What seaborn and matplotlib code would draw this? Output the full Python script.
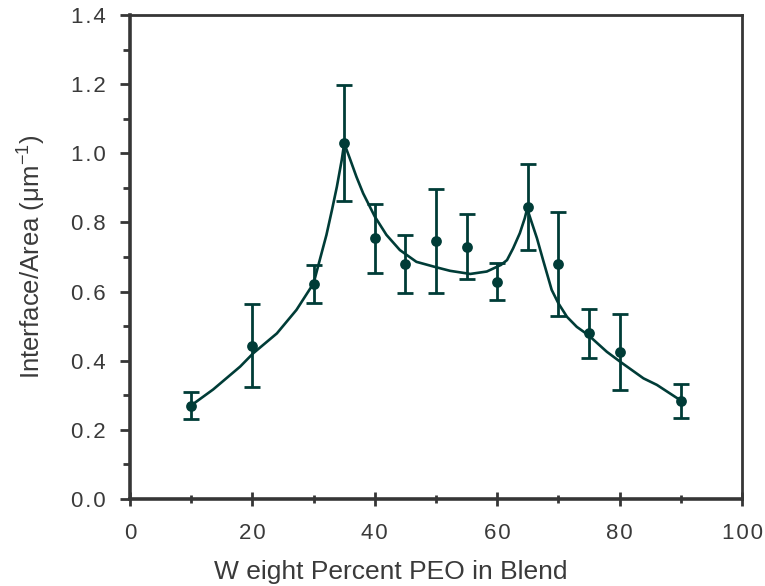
import numpy as np
import pandas as pd
import matplotlib
matplotlib.use("Agg")
import matplotlib.pyplot as plt
from matplotlib.ticker import MultipleLocator, FuncFormatter
import seaborn as sns

# Measured interface/area versus blend composition
peo_wt = [10, 20, 30, 35, 40, 45, 50, 55, 60, 65, 70, 75, 80, 90]
interface_area = [0.270, 0.443, 0.622, 1.029, 0.754, 0.680, 0.746, 0.730,
                  0.629, 0.844, 0.680, 0.479, 0.426, 0.284]
err = [0.040, 0.120, 0.056, 0.168, 0.100, 0.085, 0.150, 0.095,
       0.054, 0.124, 0.150, 0.071, 0.110, 0.050]

# Fitted trend curve
fit_x = [10.1, 13.6, 18.0, 20.1, 24.0, 27.2, 30.0, 31.0, 32.1, 33.0,
         33.8, 34.6, 35.0, 35.9, 37.0, 38.1, 40.0, 41.9, 44.1, 46.8,
         50.1, 52.3, 55.6, 58.3, 60.6, 61.6, 62.6, 63.7, 64.5, 64.9,
         65.6, 66.5, 67.5, 68.9, 70.0, 71.4, 73.0, 74.9, 77.9, 80.1,
         83.9, 86.1, 89.9]
fit_y = [0.272, 0.317, 0.383, 0.421, 0.479, 0.547, 0.624, 0.691, 0.764, 0.836,
         0.903, 0.981, 1.029, 0.986, 0.932, 0.884, 0.817, 0.764, 0.720, 0.686,
         0.670, 0.660, 0.651, 0.658, 0.677, 0.691, 0.725, 0.769, 0.812, 0.840,
         0.802, 0.754, 0.691, 0.605, 0.566, 0.527, 0.498, 0.474, 0.426, 0.397,
         0.349, 0.330, 0.286]

points = pd.DataFrame({"peo": peo_wt, "ia": interface_area, "err": err})
curve = pd.DataFrame({"peo": fit_x, "ia": fit_y})

sns.set_theme(style="white")
plt.rcParams["font.family"] = ["Liberation Sans", "DejaVu Sans"]
plt.rcParams["mathtext.fontset"] = "custom"
plt.rcParams["mathtext.rm"] = "Liberation Sans"
plt.rcParams["mathtext.it"] = "Liberation Sans"

ink = "#003c37"
frame = "#363636"
text = "#3a3a3a"

fig = plt.figure(figsize=(7.65, 5.86), dpi=100)
ax = fig.add_axes([130 / 765, 1 - 499 / 586, 612 / 765, 484 / 586])

sns.lineplot(data=curve, x="peo", y="ia", sort=False, color=ink, lw=1.9, ax=ax)
ax.errorbar(points["peo"], points["ia"], yerr=points["err"], fmt="none",
            ecolor=ink, elinewidth=2.0, capsize=5.5, capthick=2.0, zorder=3)
sns.scatterplot(data=points, x="peo", y="ia", color=ink, s=60,
                edgecolor=ink, linewidth=0, zorder=4, ax=ax)

ax.set_xlim(0, 100)
ax.set_ylim(0, 1.4)

ax.xaxis.set_major_locator(MultipleLocator(20))
ax.xaxis.set_minor_locator(MultipleLocator(10))
ax.yaxis.set_major_locator(MultipleLocator(0.2))
ax.yaxis.set_minor_locator(MultipleLocator(0.1))

ax.yaxis.set_major_formatter(FuncFormatter(lambda v, p: "\u200a".join(f"{v:.1f}")))
ax.xaxis.set_major_formatter(FuncFormatter(lambda v, p: "\u200a".join(f"{v:.0f}")))

ax.tick_params(axis="y", which="major", direction="out", length=7.5, width=2,
               color=frame, labelsize=16, labelcolor=text, pad=10, left=True)
ax.tick_params(axis="y", which="minor", direction="out", length=5, width=2,
               color=frame, left=True)
ax.tick_params(axis="x", which="major", direction="inout", length=10, width=2,
               color=frame, labelsize=16, labelcolor=text, pad=12, bottom=True)
ax.tick_params(axis="x", which="minor", direction="inout", length=5.5, width=2,
               color=frame, bottom=True)

for side, w in (("left", 2.6), ("bottom", 2.6), ("top", 2.0), ("right", 2.0)):
    ax.spines[side].set_visible(True)
    ax.spines[side].set_color(frame)
    ax.spines[side].set_linewidth(w)

ax.set_xlabel("W eight Percent PEO in Blend", fontsize=19, color=text)
ax.set_ylabel("Interface/Area ($\\mu$m$^{-1}$)", fontsize=18.5, color=text)
ax.xaxis.set_label_coords(0.426, -0.151)
ax.xaxis.label.set_verticalalignment("center")
ax.yaxis.set_label_coords(-0.160, 0.5)
ax.yaxis.label.set_verticalalignment("center")

ax.grid(False)
fig.savefig("out.png", dpi=100, facecolor="white")
